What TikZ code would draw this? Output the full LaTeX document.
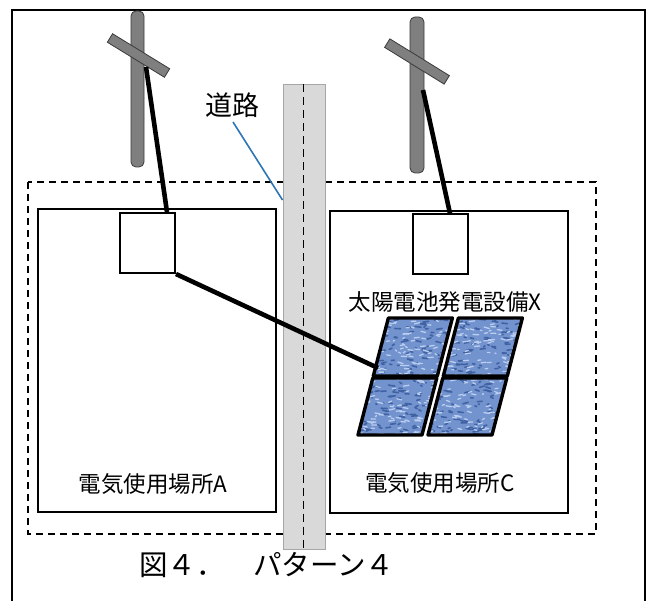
\documentclass[tikz,border=0pt]{standalone}
\usepackage{fontspec}
\setmainfont{Noto Sans CJK JP}
\usetikzlibrary{calc}

\definecolor{polefill}{HTML}{7F7F7F}
\definecolor{poleedge}{HTML}{3A3A3A}
\definecolor{roadfill}{HTML}{D9D9D9}
\definecolor{roadedge}{HTML}{A6A6A6}
\definecolor{leader}{HTML}{2E75B6}
\definecolor{pvblue}{HTML}{7393CF}
\definecolor{pvdark}{HTML}{4062A2}
\definecolor{pvlight}{HTML}{BACEEF}

\tikzset{
  frame/.style={draw=black, line width=1.3pt},
  lot/.style={draw=black, line width=1.2pt},
  site/.style={draw=black, line width=1.3pt, dash pattern=on 7pt off 5pt},
  meter/.style={draw=black, fill=white, line width=2pt, minimum width=55pt, minimum height=60pt, inner sep=0pt},
  pole/.style={fill=polefill, draw=poleedge, line width=0.8pt, rounded corners=5pt},
  arm/.style={fill=polefill, draw=poleedge, line width=0.8pt, minimum height=10pt, inner sep=0pt},
  wire/.style={draw=black, line width=4.6pt},
  road/.style={fill=roadfill, draw=roadedge, line width=1pt, minimum width=42pt, minimum height=464pt, inner sep=0pt},
  roadcenter/.style={draw=black, line width=1pt, dash pattern=on 8pt off 5pt},
  lbl/.style={font=\fontsize{22.5pt}{24pt}\selectfont, inner sep=0pt},
  pvedge/.style={draw=black, line width=3.4pt, line join=round},
}

% one solar module: #1 bottom-left x, #2 bottom y, #3 top y
\newcommand\pvpanel[3]{%
  \pgfmathsetmacro\pvsh{0.26*(#2-#3)}%
  \begin{scope}
    \clip (#1,#2) -- ++(64,0) -- ++(\pvsh,#3-#2) -- ++(-64,0) -- cycle;
    \fill[pvblue] (#1-2,#3-2) rectangle (#1+90,#2+2);
    \foreach \k in {1,...,80}{
      \pgfmathsetmacro\px{#1+rnd*(64+\pvsh)}
      \pgfmathsetmacro\py{#3+rnd*(#2-#3)}
      \draw[pvdark, line width=1.6pt, line cap=round] (\px,\py) -- ++(1+rnd*5, rnd*3-1.5);
    }
    \foreach \k in {1,...,90}{
      \pgfmathsetmacro\px{#1+rnd*(64+\pvsh)}
      \pgfmathsetmacro\py{#3+rnd*(#2-#3)}
      \draw[pvlight, line width=1.3pt, line cap=round] (\px,\py) -- ++(1+rnd*5, rnd*3-1.5);
    }
  \end{scope}
  \draw[pvedge] (#1,#2) -- ++(64,0) -- ++(\pvsh,#3-#2) -- ++(-64,0) -- cycle;
}

\begin{document}
\begin{tikzpicture}[x=1pt, y=-1pt]
\useasboundingbox (0,0) rectangle (650,601);
\pgfmathsetseed{4711}

% open frame
\draw[frame] (12,601) -- (12,10) -- (645,10) -- (645,601);

% premises boundary and the two lots
\draw[site] (28,182) rectangle (596,534);
\draw[lot] (38,209) rectangle (276,512);
\draw[lot] (330,211) rectangle (568,513);

% road with centre line
\node[road] (road) at (304,317) {};
\draw[roadcenter] (road.north) ++(-1,0) coordinate (rc1) -- (rc1 |- road.south);

% utility poles with cross arms
\draw[pole] (131,11) rectangle (144,167);
\node[arm, minimum width=67pt, rotate=-31.5] (armA) at (138.5,55.5) {};
\coordinate (poleA) at (146,67);
\draw[pole] (410,17) rectangle (424,173);
\node[arm, minimum width=70pt, rotate=-31.7] (armC) at (417,61.5) {};
\coordinate (poleC) at (423,90);

% meter boxes
\node[meter] (metA) at (147.5,243) {};
\node[meter] (metC) at (440.5,244.5) {};

% service drops
\draw[wire] (poleA) -- ($(metA.north east)+(-9,0)$);
\draw[wire] (poleC) -- ($(metC.north west)+(38,0)$);

% solar array
\pvpanel{358}{435}{378}
\pvpanel{428}{435}{378}
\pvpanel{373.3}{376}{318}
\pvpanel{443.3}{376}{318}
\coordinate (pvin) at (378,368);

% line from lot A meter to the array
\draw[wire] (metA.south east) -- (pvin);

% labels
\node[font=\fontsize{27pt}{29pt}\selectfont, inner sep=0pt] (roadlbl) at (232,105) {道路};
\coordinate (roadhit) at (road.west |- 0,200);
\draw[leader, line width=1.6pt] (233,122) -- (roadhit);
\node[lbl] (pvlbl) at (445,302) {太陽電池発電設備X};
\node[lbl] (lblA) at (153,484) {電気使用場所A};
\node[lbl] (lblC) at (440,483) {電気使用場所C};
\node[font=\fontsize{28.5pt}{30pt}\selectfont, inner sep=0pt, anchor=west] (cap) at (139,565) {図４．　パターン４};
\end{tikzpicture}
\end{document}
